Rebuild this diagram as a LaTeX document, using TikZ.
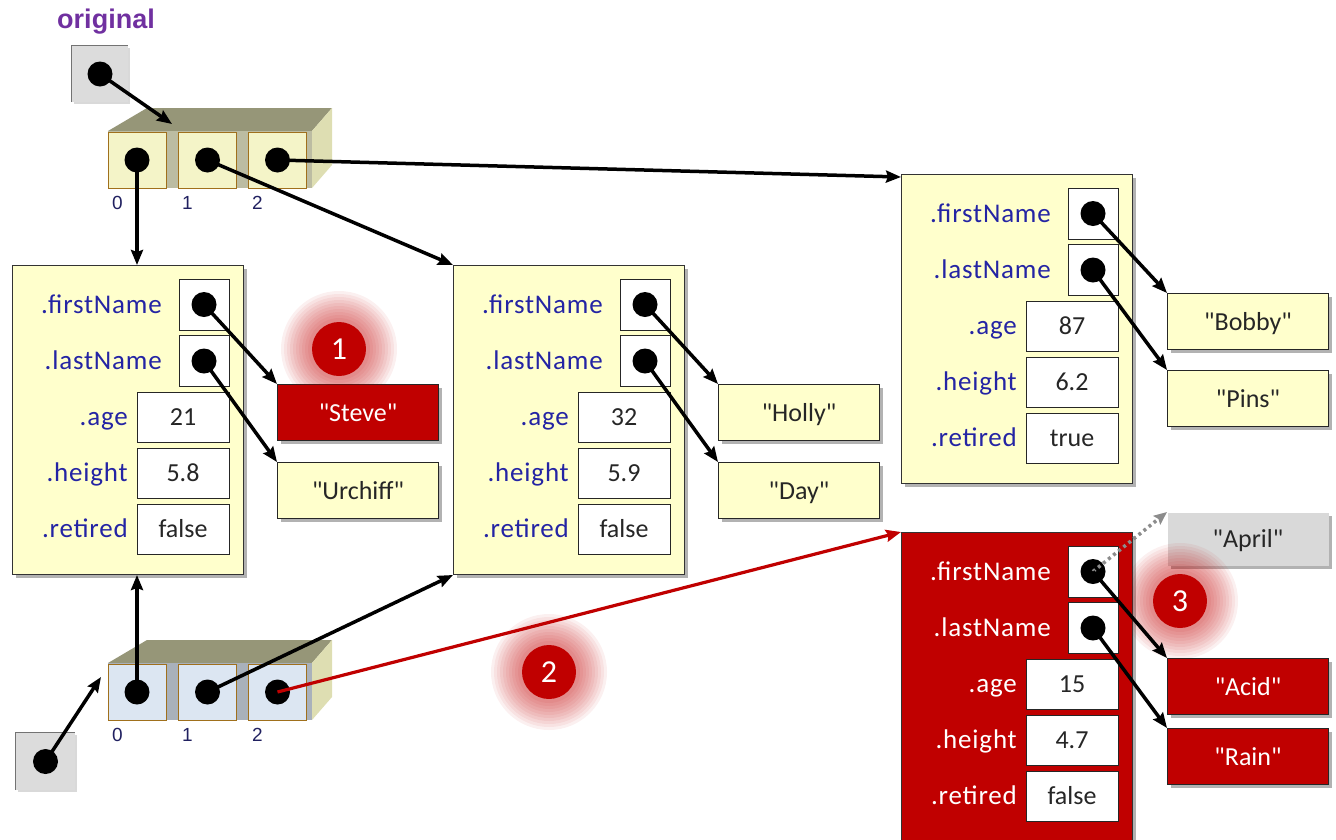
\documentclass[tikz,border=0pt]{standalone}
\usepackage{fontspec}
\setmainfont{Carlito}
\newfontfamily\labelfont{Carlito}[LetterSpace=3]
\newfontfamily\arialfont{Liberation Sans}
\usetikzlibrary{arrows.meta,shadows}

\definecolor{fieldblue}{HTML}{2424A4}
\definecolor{objyellow}{HTML}{FFFFCC}
\definecolor{cellyellow}{HTML}{F4F4C8}
\definecolor{cellblue}{HTML}{DCE6F2}
\definecolor{cellrim}{HTML}{A0701C}
\definecolor{alertred}{HTML}{C00000}
\definecolor{topolive}{HTML}{969678}
\definecolor{sideolive}{HTML}{DEDEB2}
\definecolor{frontolive}{HTML}{BCBCA2}
\definecolor{frontblue}{HTML}{A9B1BB}
\definecolor{varfill}{HTML}{DCDCDC}
\definecolor{origpurple}{HTML}{7030A0}
\definecolor{idxnavy}{HTML}{202060}
\definecolor{aprilgray}{HTML}{D9D9D9}
\definecolor{inkdark}{HTML}{262626}

% straight double quotes round a string literal
\newcommand\strlit[1]{\textquotedbl#1\textquotedbl}

\tikzset{
  x=1pt, y=-1pt,
  softshadow/.style={drop shadow={shadow xshift=3pt,shadow yshift=-3pt,opacity=0.3,fill=black}},
  objbox/.style={draw=black!80, line width=1pt, anchor=north west, inner sep=0pt, softshadow,
                 minimum width=231pt, minimum height=309pt},
  bigtext/.style={font=\fontsize{26}{30}\selectfont},
  fieldlabel/.style={font=\labelfont\fontsize{27}{30}\selectfont, anchor=base east, inner sep=0pt},
  valbox/.style={bigtext, draw=black!85, fill=white, line width=1pt, inner sep=0pt,
                 text=inkdark, text height=17pt, text depth=0pt},
  refbox/.style={valbox, minimum width=50pt, minimum height=51pt},
  numbox/.style={valbox, minimum width=92pt, minimum height=50pt},
  strbox/.style={bigtext, draw=black!85, line width=1pt, minimum width=161pt, minimum height=56pt,
                 inner sep=0pt, anchor=north west, text height=17pt, text depth=0pt, softshadow},
  refdot/.style={circle, fill=black, minimum size=25pt, inner sep=0pt},
  cellbox/.style={draw=cellrim, line width=1pt, minimum width=58pt, minimum height=56pt, inner sep=0pt},
  idxlabel/.style={font=\arialfont\fontsize{19}{22}\selectfont, text=idxnavy, inner sep=0pt},
  varbox/.style={fill=varfill, inner sep=0pt, drop shadow={shadow xshift=2pt,shadow yshift=-2pt,opacity=0.15,fill=black}},
  ptr/.style={line width=3.5pt, -{Stealth[length=15pt,width=12pt,inset=2pt]}},
  redptr/.style={line width=3.2pt, alertred, -{Stealth[length=15pt,width=12pt,inset=2pt]}},
  oldptr/.style={line width=3.5pt, black!45, dash pattern=on 3pt off 3.5pt,
                 -{Stealth[length=13pt,width=11pt,inset=2pt]}},
  badgecirc/.style={circle, fill=alertred, text=white, minimum size=54pt, inner sep=0pt,
                    font=\fontsize{32}{36}\selectfont},
}

% an array of three references drawn as a small 3D block
\newcommand\refarray[4]{%
  \begin{scope}[shift={(0,#2)}]
    \fill[topolive] (108,131) -- (147,108) -- (332,108) -- (312,131) -- cycle;
    \fill[sideolive] (312,131) -- (332,108) -- (332,165) -- (312,188) -- cycle;
    \fill[#4] (108,131) rectangle (312,188);
    \node[cellbox, fill=#3] (#1c0) at (137,160) {};
    \node[cellbox, fill=#3] (#1c1) at (207.5,160) {};
    \node[cellbox, fill=#3] (#1c2) at (277.5,160) {};
    \node[refdot] (#1d0) at (#1c0.center) {};
    \node[refdot] (#1d1) at (#1c1.center) {};
    \node[refdot] (#1d2) at (#1c2.center) {};
    \node[idxlabel] (#1i0) at (117.5,203) {0};
    \node[idxlabel] (#1i1) at (187.5,203) {1};
    \node[idxlabel] (#1i2) at (257.5,203) {2};
  \end{scope}}

% a person object: [box options] name, x, y, fill, label colour, age, height, retired
\newcommand\personobj[9][]{%
  \begin{scope}[shift={(#3,#4)}]
    \node[objbox, fill=#5, #1] (#2) at (0,0) {};
    \node[refbox] (#2fn) at (192,39.5) {};
    \node[refbox] (#2ln) at (192,96) {};
    \node[numbox] (#2age) at (171,152) {#7};
    \node[numbox] (#2ht) at (171,208) {#8};
    \node[numbox] (#2ret) at (171,264) {#9};
    \node[fieldlabel, text=#6] (#2fnl) at (150,48) {.firstName};
    \node[fieldlabel, text=#6] (#2lnl) at (150,104.5) {.lastName};
    \node[fieldlabel, text=#6] (#2agel) at (116,160.5) {.age};
    \node[fieldlabel, text=#6] (#2htl) at (116,216.5) {.height};
    \node[fieldlabel, text=#6] (#2retl) at (116,272.5) {.retired};
    \node[refdot] (#2fnd) at (#2fn.center) {};
    \node[refdot] (#2lnd) at (#2ln.center) {};
  \end{scope}}

% numbered callout with a soft red halo
\newcommand\halo[1]{%
  \foreach \r in {58,55,...,29} {\fill[alertred, opacity=0.06] #1 circle (\r pt);}}

\begin{document}
\begin{tikzpicture}
  \useasboundingbox (0,0) rectangle (1336,839);

  % variables
  \node[font=\arialfont\bfseries\fontsize{27}{30}\selectfont, text=origpurple, inner sep=0pt]
    (origlabel) at (106,22) {original};
  \node[varbox, minimum width=56pt, minimum height=56pt] (v1) at (100,74) {};
  \draw[black!55, line width=1pt] (v1.south west) -- (v1.north west) -- (v1.north east);
  \node[refdot] (v1d) at (v1.center) {};

  \node[varbox, minimum width=59pt, minimum height=57pt] (v2) at (45.5,761.5) {};
  \draw[black!55, line width=1pt] (v2.south west) -- (v2.north west) -- (v2.north east);
  \node[refdot] (v2d) at (v2.center) {};

  % arrays
  \refarray{t}{0}{cellyellow}{frontolive}
  \refarray{b}{532}{cellblue}{frontblue}
  \coordinate (tin) at (172,124);
  \coordinate (bin) at (101,677);

  % objects
  \personobj{oa}{12}{265}{objyellow}{fieldblue}{21}{5.8}{false}
  \personobj{ob}{453}{265}{objyellow}{fieldblue}{32}{5.9}{false}
  \personobj{oc}{901}{174}{objyellow}{fieldblue}{87}{6.2}{true}
  \personobj[minimum height=330pt]{od}{901}{532}{alertred}{white}{15}{4.7}{false}

  % strings
  \node[strbox, fill=alertred, text=white] (steve) at (277,384) {\strlit{Steve}};
  \node[strbox, fill=objyellow, text=inkdark] (urchiff) at (277,462) {\strlit{Urchiff}};
  \node[strbox, fill=objyellow, text=inkdark] (holly) at (718,384) {\strlit{Holly}};
  \node[strbox, fill=objyellow, text=inkdark] (day) at (718,462) {\strlit{Day}};
  \node[strbox, fill=objyellow, text=inkdark] (bobby) at (1167,293) {\strlit{Bobby}};
  \node[strbox, fill=objyellow, text=inkdark] (pins) at (1167,370) {\strlit{Pins}};
  \node[strbox, draw=none, fill=aprilgray, text=inkdark, minimum height=53pt] (april) at (1167,512) {\strlit{April}};
  \node[strbox, fill=alertred, text=white] (acid) at (1167,658) {\strlit{Acid}};
  \node[strbox, fill=alertred, text=white] (rain) at (1167,728) {\strlit{Rain}};

  % halos behind the callouts
  \halo{(339,349)}
  \halo{(549,672)}
  \halo{(1180,601)}

  % references
  \draw[ptr] (v1d.center) -- (tin);
  \draw[ptr] (v2d.center) -- (bin);
  \draw[ptr] (td0.center) -- (td0.center |- oa.north);
  \draw[ptr] (td1.center) -- (ob.north west);
  \draw[ptr] (td2.center) -- ([yshift=-3pt]oc.north west);
  \draw[ptr] (bd0.center) -- (bd0.center |- oa.south);
  \draw[ptr] (bd1.center) -- (ob.south west);
  \draw[redptr] (bd2.center) -- (od.north west);

  \draw[ptr] (oafnd.center) -- (steve.north west);
  \draw[ptr] (oalnd.center) -- (urchiff.north west);
  \draw[ptr] (obfnd.center) -- (holly.north west);
  \draw[ptr] (oblnd.center) -- (day.north west);
  \draw[ptr] (ocfnd.center) -- (bobby.north west);
  \draw[ptr] (oclnd.center) -- (pins.north west);
  \draw[oldptr] (odfnd.center) -- (april.north west);
  \draw[ptr] (odfnd.center) -- (acid.north west);
  \draw[ptr] (odlnd.center) -- (rain.north west);

  % callouts
  \node[badgecirc] (badge1) at (339,349) {1};
  \node[badgecirc] (badge2) at (549,672) {2};
  \node[badgecirc] (badge3) at (1180,601) {3};
\end{tikzpicture}
\end{document}
